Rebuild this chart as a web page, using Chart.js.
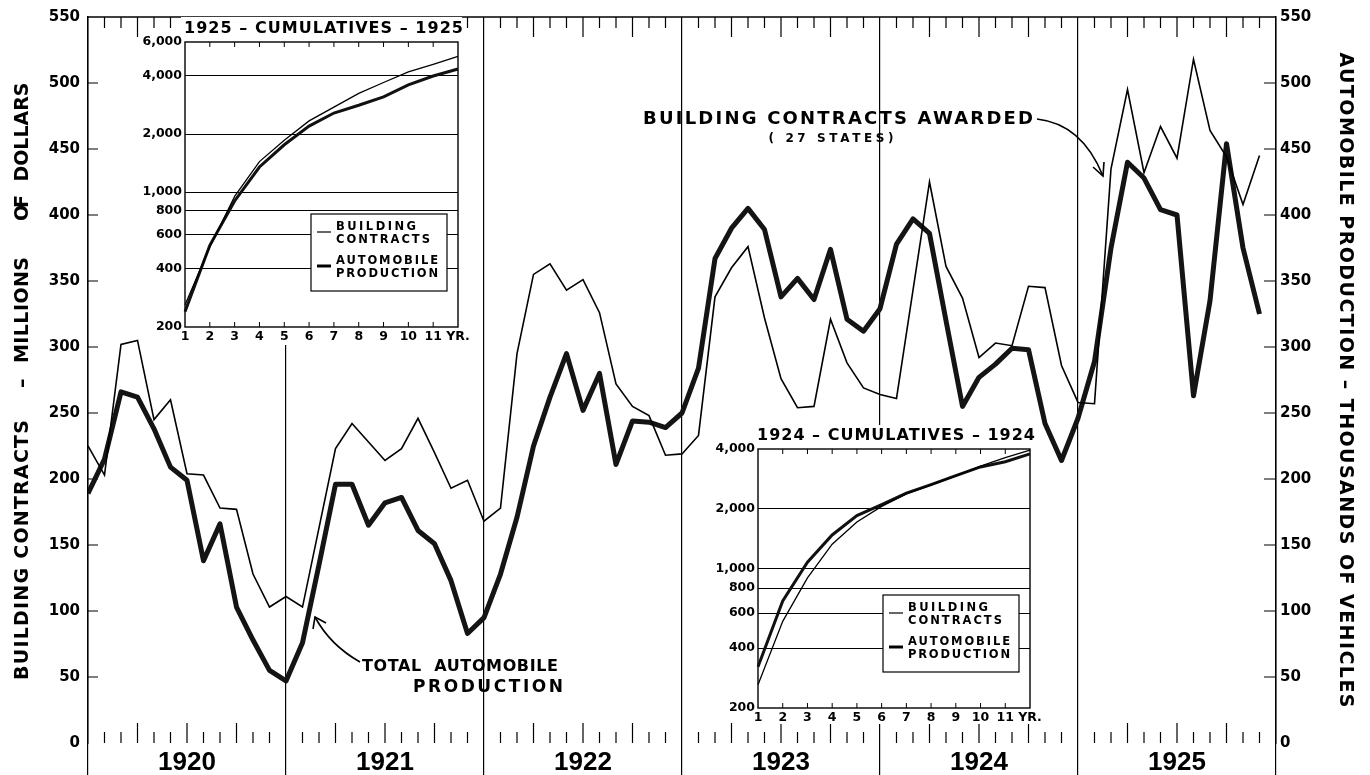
<!DOCTYPE html>
<html>
<head>
<meta charset="utf-8">
<script src="https://cdn.jsdelivr.net/npm/chart.js@4.4.0/dist/chart.umd.min.js"></script>
<style>
html, body { margin:0; padding:0; background:#fff; }
#wrap { position:relative; width:1370px; height:775px; overflow:hidden; }
#main { position:absolute; left:0; top:0; }
#inset25 { position:absolute; left:136px; top:17px; }
#inset24 { position:absolute; left:712px; top:425px; }
</style>
</head>
<body>
<div id="wrap">
<canvas id="main" width="1370" height="775"></canvas>
<canvas id="inset25" width="346" height="328"></canvas>
<canvas id="inset24" width="335" height="299"></canvas>
</div>
<script>
// monthly values, Jan 1920 .. Dec 1925
var years = ['1920', '1921', '1922', '1923', '1924', '1925'];
var building_contracts = [
    225, 203, 302, 305, 245, 260, 204, 203, 178, 177, 128, 103,
    111, 103, 163, 223, 242, 228, 214, 223, 246, 220, 193, 199,
    168, 178, 295, 355, 363, 343, 351, 326, 272, 255, 248, 218,
    219, 233, 338, 360, 376, 322, 276, 254, 255, 321, 288, 269,
    264, 261, 343, 425, 361, 337, 292, 303, 301, 346, 345, 286,
    258, 257, 435, 495, 432, 467, 443, 518, 464, 444, 408, 445
];
var auto_production = [
    189, 215, 266, 262, 238, 209, 199, 138, 166, 103, 78, 55,
    47, 76, 135, 196, 196, 165, 182, 186, 161, 151, 123, 83,
    95, 128, 171, 225, 262, 295, 252, 280, 211, 244, 243, 239,
    250, 284, 367, 390, 405, 389, 338, 352, 336, 374, 321, 312,
    329, 378, 397, 386, 320, 255, 277, 287, 299, 298, 242, 214,
    246, 289, 375, 440, 428, 404, 400, 263, 335, 454, 375, 325
];

// cumulative insets
var cum_months = ['1', '2', '3', '4', '5', '6', '7', '8', '9', '10', '11', 'YR.'];
var cum25_building = [260, 520, 950, 1440, 1860, 2340, 2760, 3250, 3700, 4200, 4600, 5050];
var cum25_auto = [240, 530, 900, 1350, 1760, 2200, 2570, 2820, 3120, 3600, 4000, 4350];
var cum24_building = [262, 545, 900, 1330, 1720, 2060, 2380, 2640, 2930, 3280, 3620, 3950];
var cum24_auto = [322, 690, 1080, 1480, 1850, 2100, 2400, 2650, 2940, 3250, 3450, 3780];
var cum25_ticks = [200, 400, 600, 800, 1000, 2000, 4000, 6000];
var cum24_ticks = [200, 400, 600, 800, 1000, 2000, 4000];

var FONT = 'DejaVu Sans';

// draws text spread out to a given width, centred on x
function spreadText(ctx, text, x, y, width, font) {
    ctx.font = font;
    ctx.letterSpacing = '0px';
    var w = ctx.measureText(text).width;
    var sp = (width - w) / Math.max(text.length - 1, 1);
    ctx.letterSpacing = sp + 'px';
    ctx.textAlign = 'left';
    ctx.textBaseline = 'middle';
    ctx.fillText(text, x - width / 2, y);
    ctx.letterSpacing = '0px';
}

function arrowHead(ctx, tip, b1, b2) {
    ctx.beginPath();
    ctx.moveTo(b1[0], b1[1]);
    ctx.lineTo(tip[0], tip[1]);
    ctx.lineTo(b2[0], b2[1]);
    ctx.stroke();
}

var mainDecor = {
    id: 'mainDecor',
    beforeDatasetsDraw: function(chart) {
        var ctx = chart.ctx, a = chart.chartArea;
        var xs = chart.scales.x, ys = chart.scales.y;
        ctx.save();
        ctx.strokeStyle = '#000';
        ctx.lineWidth = 1.3;
        // top border
        ctx.beginPath();
        ctx.moveTo(a.left, a.top);
        ctx.lineTo(a.right, a.top);
        ctx.stroke();
        // month ticks, longer ones at quarters
        ctx.lineWidth = 1.2;
        for (var i = 1; i < 72; i++) {
            if (i % 12 == 0) continue;
            var px = xs.getPixelForValue(i);
            var len = (i % 3 == 0) ? 20 : 11;
            ctx.beginPath();
            ctx.moveTo(px, a.bottom);
            ctx.lineTo(px, a.bottom - len);
            ctx.moveTo(px, a.top);
            ctx.lineTo(px, a.top + len);
            ctx.stroke();
        }
        // inward value ticks on both sides
        ys.ticks.forEach(function(t) {
            if (t.value == 0 || t.value == 550) return;
            var py = ys.getPixelForValue(t.value);
            ctx.beginPath();
            ctx.moveTo(a.left, py);
            ctx.lineTo(a.left + 10, py);
            ctx.moveTo(a.right, py);
            ctx.lineTo(a.right - 12, py);
            ctx.stroke();
        });
        ctx.restore();
    },
    afterDraw: function(chart) {
        var ctx = chart.ctx;
        ctx.save();
        ctx.fillStyle = '#000';
        ctx.strokeStyle = '#000';

        // left axis title
        ctx.save();
        ctx.translate(23, 0);
        ctx.rotate(-Math.PI / 2);
        var f = 'bold 19px "' + FONT + '"';
        spreadText(ctx, 'BUILDING CONTRACTS', -550, 0, 260, f);
        spreadText(ctx, '\u2013', -383, 0, 10, f);
        spreadText(ctx, 'MILLIONS', -310, 0, 106, f);
        spreadText(ctx, 'OF', -208, 0, 26, f);
        spreadText(ctx, 'DOLLARS', -132, 0, 99, f);
        ctx.restore();

        // right axis title
        ctx.save();
        ctx.translate(1345, 0);
        ctx.rotate(Math.PI / 2);
        spreadText(ctx, 'AUTOMOBILE PRODUCTION \u2013 THOUSANDS OF VEHICLES', 380, 0, 655, f);
        ctx.restore();

        // series labels
        var lf = 'bold 18px "' + FONT + '"';
        spreadText(ctx, 'BUILDING CONTRACTS AWARDED', 838, 119, 390, lf);
        spreadText(ctx, '( 27 STATES)', 831, 139, 125, 'bold 12px "' + FONT + '"');
        spreadText(ctx, 'TOTAL  AUTOMOBILE', 460, 667, 196, 'bold 16px "' + FONT + '"');
        spreadText(ctx, 'PRODUCTION', 488, 688, 150, 'bold 17px "' + FONT + '"');

        ctx.lineWidth = 1.6;
        ctx.beginPath();
        ctx.moveTo(1037, 119);
        ctx.quadraticCurveTo(1082, 124, 1103, 176);
        ctx.stroke();
        arrowHead(ctx, [1103, 176], [1093, 167], [1104, 162]);

        ctx.beginPath();
        ctx.moveTo(360, 662);
        ctx.quadraticCurveTo(330, 645, 315, 617);
        ctx.stroke();
        arrowHead(ctx, [315, 617], [313, 629], [326, 623]);
        ctx.restore();
    }
};

var tickFont = { family: FONT, size: 15, weight: 'bold' };

var mainChart = new Chart(document.getElementById('main').getContext('2d'), {
    type: 'line',
    data: {
        datasets: [{
            label: 'Building contracts awarded',
            data: building_contracts.map(function(v, i) { return { x: i, y: v }; }),
            borderColor: '#000',
            borderWidth: 1.6,
            pointRadius: 0,
            yAxisID: 'y'
        }, {
            label: 'Total automobile production',
            data: auto_production.map(function(v, i) { return { x: i, y: v }; }),
            borderColor: '#141414',
            borderWidth: 5,
            borderJoinStyle: 'round',
            pointRadius: 0,
            yAxisID: 'y2'
        }]
    },
    options: {
        responsive: false,
        animation: false,
        layout: { padding: { top: 16, left: 0, right: 0, bottom: 0 } },
        plugins: { legend: { display: false }, tooltip: { enabled: false } },
        scales: {
            x: {
                type: 'linear',
                min: 0,
                max: 72,
                afterBuildTicks: function(scale) {
                    var t = [];
                    for (var v = 0; v <= 72; v += 6) t.push({ value: v });
                    scale.ticks = t;
                },
                ticks: {
                    autoSkip: false,
                    maxRotation: 0,
                    padding: -28,
                    color: '#000',
                    font: { family: 'Liberation Sans', size: 26, weight: 'bold' },
                    callback: function(v) { return v % 12 == 6 ? years[(v - 6) / 12] : ''; }
                },
                grid: {
                    color: function(c) { return (c.tick && c.tick.value % 12 == 0) ? '#000' : 'rgba(0,0,0,0)'; },
                    lineWidth: 1.2,
                    tickLength: 32
                },
                border: { display: false },
                afterFit: function(s) { s.height = 32; }
            },
            y: {
                position: 'left',
                min: 0,
                max: 550,
                ticks: { stepSize: 50, padding: 8, color: '#000', font: tickFont },
                grid: { drawOnChartArea: false, drawTicks: false },
                border: { display: true, color: '#000', width: 1.5 },
                afterFit: function(s) { s.width = 88; }
            },
            y2: {
                position: 'right',
                min: 0,
                max: 550,
                ticks: { stepSize: 50, padding: 4, color: '#000', font: tickFont },
                grid: { drawOnChartArea: false, drawTicks: false },
                border: { display: true, color: '#000', width: 1.5 },
                afterFit: function(s) { s.width = 94; }
            }
        }
    },
    plugins: [mainDecor]
});

// inset with the cumulative totals for one year
function cumulativeChart(canvasId, yr, building, auto, yTicks, pad) {
    var decor = {
        id: 'cumDecor',
        beforeDraw: function(chart) {
            var ctx = chart.ctx, a = chart.chartArea;
            ctx.save();
            ctx.fillStyle = '#fff';
            ctx.fillRect(a.left - 4, 0, a.right - a.left + 8, chart.height);
            ctx.restore();
        },
        beforeDatasetsDraw: function(chart) {
            var ctx = chart.ctx, a = chart.chartArea, xs = chart.scales.x;
            ctx.save();
            ctx.strokeStyle = '#000';
            ctx.lineWidth = 1.4;
            ctx.strokeRect(a.left, a.top, a.right - a.left, a.bottom - a.top);
            ctx.lineWidth = 1;
            for (var i = 1; i < cum_months.length - 1; i++) {
                var px = xs.getPixelForValue(i);
                ctx.beginPath();
                ctx.moveTo(px, a.bottom);
                ctx.lineTo(px, a.bottom - 5);
                ctx.moveTo(px, a.top);
                ctx.lineTo(px, a.top + 5);
                ctx.stroke();
            }
            ctx.restore();
        },
        afterDraw: function(chart) {
            var ctx = chart.ctx, a = chart.chartArea;
            ctx.save();
            ctx.fillStyle = '#000';
            ctx.strokeStyle = '#000';
            spreadText(ctx, yr + ' \u2013 CUMULATIVES \u2013 ' + yr, (a.left + a.right) / 2 + 2,
                a.top - 13, a.right - a.left + 6, 'bold 16px "' + FONT + '"');
            // legend box
            var bw = 136, bh = 77;
            var bx = a.right - 11 - bw, by = a.bottom - 36 - bh;
            ctx.fillStyle = '#fff';
            ctx.fillRect(bx, by, bw, bh);
            ctx.lineWidth = 1.2;
            ctx.strokeRect(bx, by, bw, bh);
            ctx.beginPath();
            ctx.lineWidth = 1.2;
            ctx.moveTo(bx + 6, by + 18);
            ctx.lineTo(bx + 20, by + 18);
            ctx.stroke();
            ctx.beginPath();
            ctx.lineWidth = 3;
            ctx.moveTo(bx + 6, by + 52);
            ctx.lineTo(bx + 20, by + 52);
            ctx.stroke();
            ctx.fillStyle = '#000';
            var lf = 'bold 11.5px "' + FONT + '"';
            spreadText(ctx, 'BUILDING', bx + 25 + 40, by + 13, 80, lf);
            spreadText(ctx, 'CONTRACTS', bx + 25 + 47, by + 26, 94, lf);
            spreadText(ctx, 'AUTOMOBILE', bx + 25 + 51, by + 47, 102, lf);
            spreadText(ctx, 'PRODUCTION', bx + 25 + 51, by + 60, 102, lf);
            ctx.restore();
        }
    };
    var yMin = yTicks[0], yMax = yTicks[yTicks.length - 1];
    var smallFont = { family: FONT, size: 12.5, weight: 'bold' };
    return new Chart(document.getElementById(canvasId).getContext('2d'), {
        type: 'line',
        data: {
            labels: cum_months,
            datasets: [{
                label: 'Building contracts',
                data: building,
                borderColor: '#000',
                borderWidth: 1.3,
                pointRadius: 0
            }, {
                label: 'Automobile production',
                data: auto,
                borderColor: '#111',
                borderWidth: 3,
                pointRadius: 0
            }]
        },
        options: {
            responsive: false,
            animation: false,
            layout: { padding: { top: pad.top, right: pad.right, left: 0, bottom: 0 } },
            plugins: { legend: { display: false }, tooltip: { enabled: false } },
            scales: {
                x: {
                    type: 'category',
                    offset: false,
                    ticks: { autoSkip: false, maxRotation: 0, padding: 2, color: '#000', font: smallFont },
                    grid: { display: false, drawTicks: false },
                    border: { display: false },
                    afterFit: function(s) { s.height = pad.bottom; }
                },
                y: {
                    type: 'logarithmic',
                    min: yMin,
                    max: yMax,
                    afterBuildTicks: function(scale) {
                        scale.ticks = yTicks.map(function(v) { return { value: v }; });
                    },
                    ticks: {
                        padding: 3,
                        color: '#000',
                        font: smallFont,
                        callback: function(v) { return Number(v).toLocaleString('en-US'); }
                    },
                    grid: {
                        drawTicks: false,
                        color: function(c) {
                            var v = c.tick && c.tick.value;
                            return (v == yMin || v == yMax) ? 'rgba(0,0,0,0)' : '#000';
                        },
                        lineWidth: 1
                    },
                    border: { display: false },
                    afterFit: function(s) { s.width = pad.left; }
                }
            }
        },
        plugins: [decor]
    });
}

var cum25Chart = cumulativeChart('inset25', '1925', cum25_building, cum25_auto, cum25_ticks,
    { top: 25, right: 24, left: 49, bottom: 18 });
var cum24Chart = cumulativeChart('inset24', '1924', cum24_building, cum24_auto, cum24_ticks,
    { top: 24, right: 17, left: 46, bottom: 16 });
</script>
</body>
</html>
